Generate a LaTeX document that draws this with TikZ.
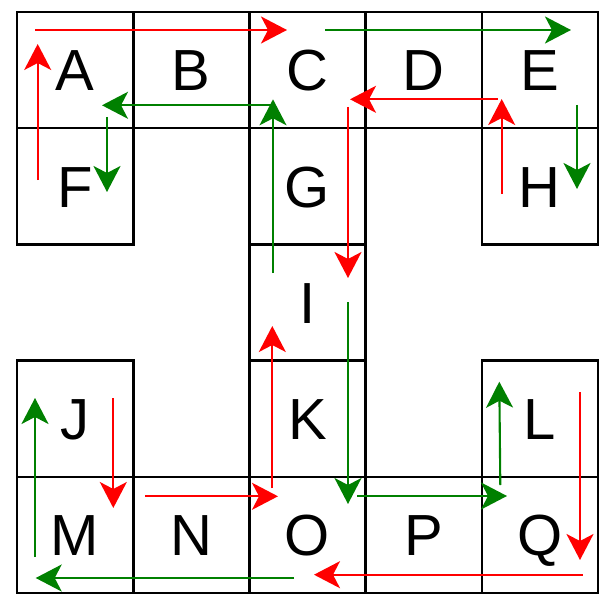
\documentclass[tikz,border=0pt]{standalone}
\usepackage{fontspec}
\setmainfont{Liberation Sans}
\usetikzlibrary{arrows.meta}
\definecolor{myred}{RGB}{255,0,0}
\definecolor{mygreen}{RGB}{0,128,0}
\begin{document}
\begin{tikzpicture}[x=1pt,y=-1pt,
  cell/.style={draw=black,line width=2.6pt,minimum size=116.2pt,inner sep=0pt,
    text height=41.5pt,text depth=0pt,font=\fontsize{58}{58}\selectfont},
  rarr/.style={draw=myred,line width=2.1pt,-{Stealth[length=26pt,width=27pt,inset=7pt]}},
  garr/.style={draw=mygreen,line width=2.1pt,-{Stealth[length=26pt,width=27pt,inset=7pt]}}]
\useasboundingbox (0,0) rectangle (610,607);
% cells
\node[cell] (A) at (75.1,70.1) {A};
\node[cell] (B) at (191.3,70.1) {B};
\node[cell] (C) at (307.5,70.1) {C};
\node[cell] (D) at (423.7,70.1) {D};
\node[cell] (E) at (539.9,70.1) {E};
\node[cell] (F) at (75.1,186.3) {F};
\node[cell] (G) at (307.5,186.3) {G};
\node[cell] (H) at (539.9,186.3) {H};
\node[cell] (I) at (307.5,302.5) {I};
\node[cell] (J) at (75.1,418.7) {J};
\node[cell] (K) at (307.5,418.7) {K};
\node[cell] (L) at (539.9,418.7) {L};
\node[cell] (M) at (75.1,534.9) {M};
\node[cell] (N) at (191.3,534.9) {N};
\node[cell] (O) at (307.5,534.9) {O};
\node[cell] (P) at (423.7,534.9) {P};
\node[cell] (Q) at (539.9,534.9) {Q};
% red arrow end points
\coordinate (r1a) at (37.7,180);  \coordinate (r1b) at (37.7,44);
\coordinate (r2a) at (35,30);     \coordinate (r2b) at (287,30);
\coordinate (r3a) at (497.7,99.3);\coordinate (r3b) at (350,99.3);
\coordinate (r4a) at (501.7,194); \coordinate (r4b) at (501.7,99);
\coordinate (r5a) at (348,107);   \coordinate (r5b) at (348,278);
\coordinate (r6a) at (272.3,488); \coordinate (r6b) at (272.3,326);
\coordinate (r7a) at (113.3,398); \coordinate (r7b) at (113.3,508);
\coordinate (r8a) at (145,496.3); \coordinate (r8b) at (278,496.3);
\coordinate (r9a) at (580,392);   \coordinate (r9b) at (580,560);
\coordinate (r10a) at (582.7,574.7); \coordinate (r10b) at (314,574.7);
% green arrow end points
\coordinate (g1a) at (325,30);    \coordinate (g1b) at (571,30);
\coordinate (g2a) at (273,105.3); \coordinate (g2b) at (102,105.3);
\coordinate (g3a) at (273,273);   \coordinate (g3b) at (273,99.3);
\coordinate (g4a) at (107,117);   \coordinate (g4b) at (107,192);
\coordinate (g5a) at (577,105);   \coordinate (g5b) at (577,189);
\coordinate (g6a) at (348,302);   \coordinate (g6b) at (348,504);
\coordinate (g7a) at (357,496);   \coordinate (g7b) at (507,496);
\coordinate (g8a) at (500.3,485); \coordinate (g8b) at (499.3,381.7);
\coordinate (g9a) at (35,557);    \coordinate (g9b) at (35,398);
\coordinate (g10a) at (294,578);  \coordinate (g10b) at (35.7,578);
% red arrows
\foreach \n in {1,...,10} \draw[rarr] (r\n a) -- (r\n b);
% green arrows
\foreach \n in {1,...,10} \draw[garr] (g\n a) -- (g\n b);
\end{tikzpicture}
\end{document}
